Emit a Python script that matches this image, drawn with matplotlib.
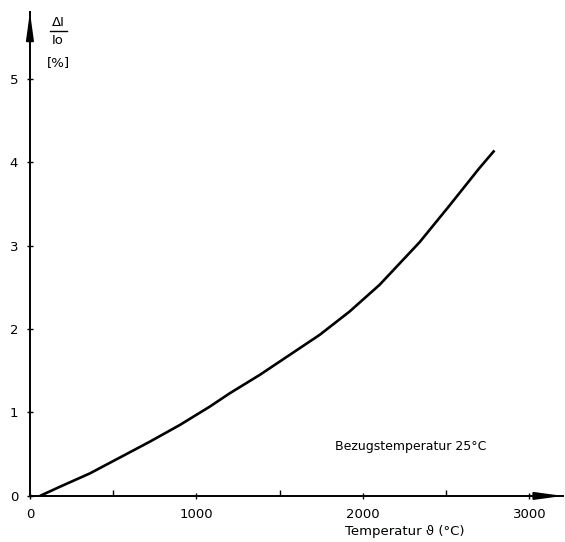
import matplotlib
matplotlib.use("Agg")
import matplotlib.pyplot as plt

# relative change of current vs. temperature
temp = [60, 180, 360, 540, 720, 900, 1080, 1200, 1380, 1560, 1740, 1920,
        2100, 2340, 2520, 2700, 2790]
delta_i = [0.0, 0.11, 0.27, 0.46, 0.65, 0.85, 1.07, 1.23, 1.45, 1.69, 1.93,
           2.21, 2.53, 3.04, 3.48, 3.93, 4.14]

yticks = [0, 1, 2, 3, 4, 5]
xticks = [0, 1000, 2000, 3000]
xminor = [500, 1500, 2500]

fig = plt.figure(figsize=(5.65, 5.42), dpi=100)
ax = fig.add_axes([0.053, 0.085, 0.943, 0.893])

ax.plot(temp, delta_i, color="black", lw=1.9, solid_capstyle="butt",
        solid_joinstyle="round")

ax.set_xlim(0, 3200)
ax.set_ylim(0, 5.8)
for s in ("top", "right"):
    ax.spines[s].set_visible(False)
for s in ("left", "bottom"):
    ax.spines[s].set_linewidth(1.4)

ax.set_xticks(xticks)
ax.set_xticks(xminor, minor=True)
ax.set_yticks(yticks)
ax.tick_params(axis="both", direction="inout", length=5, width=1, labelsize=9.5)
ax.tick_params(axis="x", which="minor", direction="in", length=4, width=1)
ax.tick_params(axis="x", pad=6)
ax.tick_params(axis="y", pad=6)

# arrowheads on both axes
head = "-|>,head_length=1.6,head_width=0.22"
for tip, tail in [((1.0, 0), (0.94, 0)), ((0, 1.0), (0, 0.94))]:
    ax.annotate("", xy=tip, xytext=tail, xycoords="axes fraction",
                arrowprops=dict(arrowstyle=head, color="black", lw=1.4,
                                shrinkA=0, shrinkB=0),
                annotation_clip=False)

# y-axis label as stacked fraction
fig.text(58 / 565, 1 - 22 / 542, "ΔI", ha="center", va="center", fontsize=9.5)
fig.add_artist(plt.Line2D([50 / 565, 67 / 565], [1 - 31 / 542, 1 - 31 / 542],
                          color="black", lw=1))
fig.text(58 / 565, 1 - 41 / 542, "Io", ha="center", va="center", fontsize=9.5)
fig.text(58 / 565, 1 - 63 / 542, "[%]", ha="center", va="center", fontsize=9.5)

ax.text(1830, 0.59, "Bezugstemperatur 25°C", fontsize=9, va="center")
fig.text(345 / 565, 1 - 531 / 542, "Temperatur ϑ (°C)", fontsize=9.5,
         ha="left", va="center")

fig.savefig("out.png", dpi=100)
